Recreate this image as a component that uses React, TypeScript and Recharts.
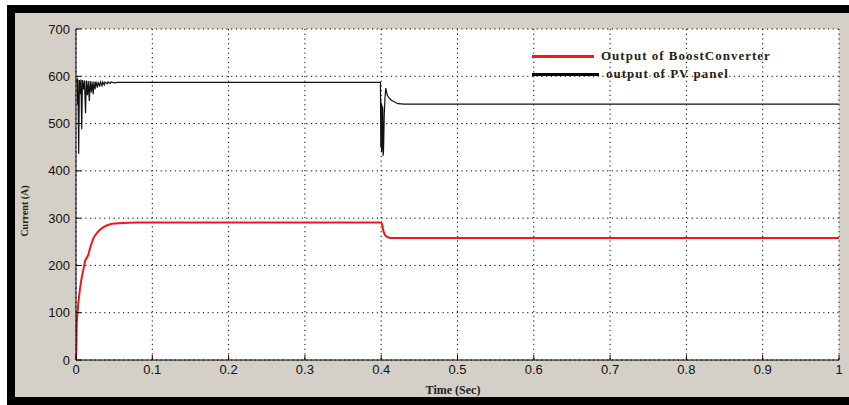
import { LineChart, Line, XAxis, YAxis, CartesianGrid } from "recharts";

// PV panel output current (black trace)
const pvTime = [
  0, 0.0015, 0.002, 0.0025, 0.0035, 0.0045, 0.006, 0.0065, 0.0075, 0.0085, 0.01, 0.011, 0.0125,
  0.0135, 0.015, 0.016, 0.0175, 0.0185, 0.02, 0.021, 0.0225, 0.0235, 0.025, 0.026, 0.028, 0.029,
  0.031, 0.032, 0.034, 0.035, 0.037, 0.038, 0.041, 0.042, 0.045, 0.046, 0.05, 0.055, 0.06,
  0.399, 0.3995, 0.4, 0.4005, 0.401, 0.4015, 0.402, 0.4025, 0.403, 0.404, 0.405, 0.406, 0.4065,
  0.408, 0.41, 0.413, 0.417, 0.422, 0.43, 1,
];
const pvCurrent = [
  590, 594, 540, 593, 436, 592, 562, 593, 488, 592, 572, 591, 522,
  591, 560, 590, 548, 590, 566, 589, 562, 589, 572, 589, 576, 588,
  578, 588, 580, 588, 582, 588, 584, 588, 585, 588, 586, 587, 587,
  587, 450, 545, 440, 540, 445, 535, 432, 440, 520, 555, 575, 570,
  560, 555, 550, 546, 542, 541, 541,
];

// Boost converter output current (red trace)
const boostTime = [
  0, 0.0005, 0.001, 0.003, 0.005, 0.007, 0.0095, 0.012, 0.016, 0.019, 0.023, 0.027, 0.031, 0.036,
  0.041, 0.047, 0.055, 0.07, 0.08, 0.4, 0.4015, 0.403, 0.405, 0.408, 0.412, 1,
];
const boostCurrent = [
  0, 25, 80, 120, 148, 170, 190, 210, 222, 240, 258, 268, 275, 281,
  285, 288, 289, 290, 291, 291, 285, 272, 264, 260, 258, 258,
];

const xTicks = [0, 0.1, 0.2, 0.3, 0.4, 0.5, 0.6, 0.7, 0.8, 0.9, 1];
const yTicks = [0, 100, 200, 300, 400, 500, 600, 700];

const pvData = pvTime.map((t, i) => ({ t, v: pvCurrent[i] }));
const boostData = boostTime.map((t, i) => ({ t, v: boostCurrent[i] }));

const tickStyle = { fontSize: 13, fontFamily: '"Liberation Sans", Arial, sans-serif', fill: "#111" };
const serif = '"Liberation Serif", "Times New Roman", serif';

export default function App() {
  return (
    <div style={{ position: "absolute", left: 0, top: 0, width: 849, height: 405, background: "#fff" }}>
      <div
        style={{
          position: "absolute",
          left: 7,
          top: 5,
          width: 842,
          height: 400,
          boxSizing: "border-box",
          borderLeft: "8px solid #000",
          borderTop: "8px solid #000",
          borderBottom: "8px solid #000",
          background: "#d4d0c8",
        }}
      />
      <div style={{ position: "absolute", left: 0, top: 0 }}>
        <LineChart width={849} height={405} margin={{ top: 29, right: 10, bottom: 15, left: 36 }}>
          <CartesianGrid stroke="#000" strokeDasharray="1.2 3.5" fill="#fff" />
          <XAxis
            dataKey="t"
            type="number"
            domain={[0, 1]}
            ticks={xTicks}
            allowDataOverflow
            height={30}
            stroke="#000"
            tickSize={-5}
            tickMargin={10}
            tick={tickStyle}
            tickFormatter={(v: number) => String(v)}
          />
          <XAxis
            xAxisId="top"
            orientation="top"
            type="number"
            domain={[0, 1]}
            ticks={xTicks}
            height={0}
            stroke="#000"
            tickSize={-5}
            tick={false}
          />
          <YAxis
            type="number"
            domain={[0, 700]}
            ticks={yTicks}
            width={40}
            stroke="#000"
            tickSize={-5}
            tickMargin={11}
            tick={tickStyle}
          />
          <YAxis
            yAxisId="right"
            orientation="right"
            type="number"
            domain={[0, 700]}
            ticks={yTicks}
            width={0}
            stroke="#000"
            tickSize={-5}
            tick={false}
          />
          <Line
            data={boostData}
            dataKey="v"
            type="linear"
            stroke="#f21818"
            strokeWidth={2}
            dot={false}
            isAnimationActive={false}
          />
          <Line
            data={pvData}
            dataKey="v"
            type="linear"
            stroke="#111"
            strokeWidth={1.2}
            dot={false}
            isAnimationActive={false}
          />
        </LineChart>
      </div>
      <div
        style={{
          position: "absolute",
          left: 24,
          top: 211,
          transform: "translate(-50%, -50%) rotate(-90deg)",
          fontFamily: serif,
          fontWeight: "bold",
          fontSize: 10,
          color: "#2a1e10",
          whiteSpace: "nowrap",
        }}
      >
        Current (A)
      </div>
      <div
        style={{
          position: "absolute",
          left: 453,
          top: 390,
          transform: "translate(-50%, -50%)",
          fontFamily: serif,
          fontWeight: "bold",
          fontSize: 12,
          color: "#222",
          whiteSpace: "nowrap",
        }}
      >
        Time (Sec)
      </div>
      <div style={{ position: "absolute", left: 532, top: 47, fontFamily: serif, fontWeight: "bold", fontSize: 13, color: "#2a1e10" }}>
        <div style={{ display: "flex", alignItems: "center", height: 18 }}>
          <div style={{ width: 62, height: 3, background: "#f21818", marginRight: 7 }} />
          <span style={{ letterSpacing: 1 }}>Output of BoostConverter</span>
        </div>
        <div style={{ display: "flex", alignItems: "center", height: 18 }}>
          <div style={{ width: 67, height: 3, background: "#000", marginRight: 7 }} />
          <span style={{ letterSpacing: 1 }}>output of PV panel</span>
        </div>
      </div>
    </div>
  );
}
